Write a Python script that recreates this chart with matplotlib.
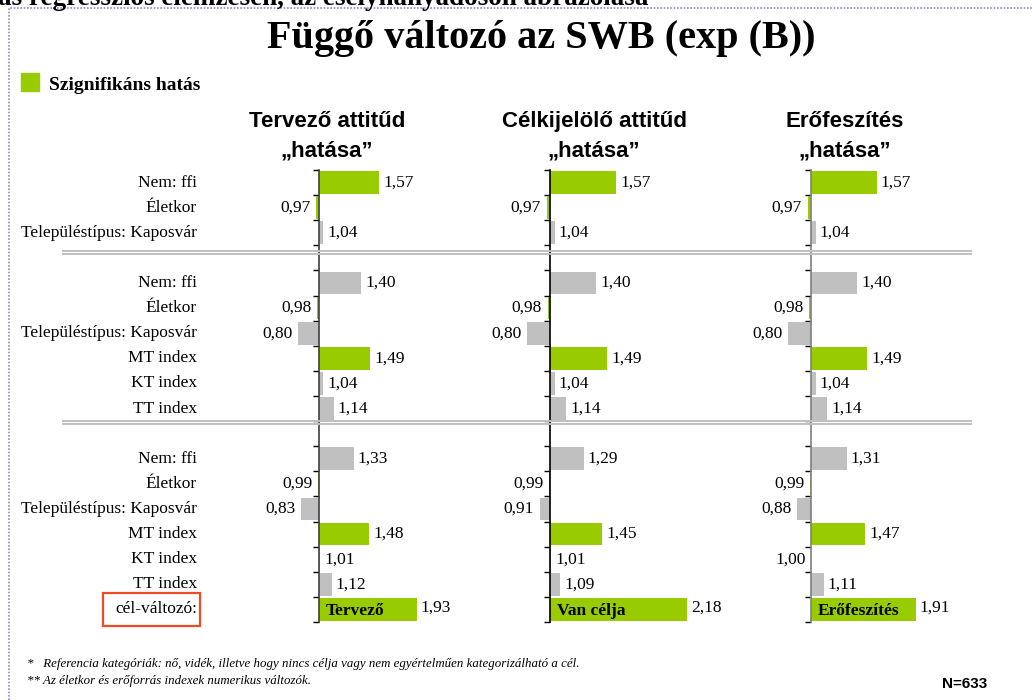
import matplotlib
matplotlib.use("Agg")
import matplotlib.pyplot as plt
from matplotlib.lines import Line2D
from matplotlib.patches import Rectangle
from matplotlib.transforms import blended_transform_factory

W, H = 1032, 700
GREEN = "#99cc00"
GRAY = "#c0c0c0"
SERIF = "Liberation Serif"
SANS = "Liberation Sans"

# row labels of the three nested models
group_labels = [
    ["Nem: ffi", "Életkor", "Településtípus: Kaposvár"],
    ["Nem: ffi", "Életkor", "Településtípus: Kaposvár", "MT index", "KT index", "TT index"],
    ["Nem: ffi", "Életkor", "Településtípus: Kaposvár", "MT index", "KT index", "TT index",
     "cél-változó:"],
]
panel_titles = ["Tervező attitűd", "Célkijelölő attitűd", "Erőfeszítés"]
target_names = ["Tervező", "Van célja", "Erőfeszítés"]

# exp(B) values, same row order as group_labels flattened
tervezo = [1.57, 0.97, 1.04,
           1.40, 0.98, 0.80, 1.49, 1.04, 1.14,
           1.33, 0.99, 0.83, 1.48, 1.01, 1.12, 1.93]
celkijelolo = [1.57, 0.97, 1.04,
               1.40, 0.98, 0.80, 1.49, 1.04, 1.14,
               1.29, 0.99, 0.91, 1.45, 1.01, 1.09, 2.18]
erofeszites = [1.57, 0.97, 1.04,
               1.40, 0.98, 0.80, 1.49, 1.04, 1.14,
               1.31, 0.99, 0.88, 1.47, 1.00, 1.11, 1.91]
significant = [1, 1, 0,
               0, 1, 0, 1, 0, 0,
               0, 1, 0, 1, 0, 0, 1]

panel_values = [tervezo, celkijelolo, erofeszites]


def fx(x):
    return x / W


def fy(y):
    return 1 - y / H


# row positions: one empty row between the groups
pos, starts = [], []
k = 0
for g in group_labels:
    starts.append((k, len(g)))
    for _ in g:
        pos.append(k)
        k += 1
    k += 1
labels = [l for g in group_labels for l in g]
boundaries = [s - 0.5 + j for s, n in starts for j in range(n + 1)]

fig = plt.figure(figsize=(W / 100, H / 100), dpi=100)

# panel placement in pixels (axis line position, px per unit)
axis_px = [319, 550, 811]
scales = [105, 116, 115]
axis_colors = ["#404040", "#000000", "#808080"]
x0, x1 = 0.6, 2.45
top_px, bot_px = 170, 622

for i, vals in enumerate(panel_values):
    left = axis_px[i] - (1 - x0) * scales[i]
    width = (x1 - x0) * scales[i]
    ax = fig.add_axes([fx(left), fy(bot_px), width / W, (bot_px - top_px) / H])
    ax.set_xlim(x0, x1)
    ax.set_ylim(pos[-1] + 0.5, -0.5)
    colors = [GREEN if s else GRAY for s in significant]
    ax.barh(pos, [v - 1 for v in vals], left=1, height=0.9, color=colors, zorder=2)
    for spine in ["top", "right", "bottom"]:
        ax.spines[spine].set_visible(False)
    ax.spines["left"].set_position(("data", 1))
    ax.spines["left"].set_color(axis_colors[i])
    ax.spines["left"].set_linewidth(1.2)
    ax.spines["left"].set_zorder(3)
    ax.set_xticks([])
    ax.set_yticks(boundaries)
    ax.set_yticklabels([])
    ax.tick_params(axis="y", direction="out", length=4, width=1, color="black")
    ax.patch.set_visible(False)

    for j, (p, v) in enumerate(zip(pos, vals)):
        dy = 1.5 if j == len(vals) - 1 else 0
        txt = f"{v:.2f}".replace(".", ",")
        if v > 1:
            ax.annotate(txt, (v, p), xytext=(3, dy), textcoords="offset points",
                        ha="left", va="center", family=SERIF, fontsize=12.5)
        else:
            ax.annotate(txt, (v, p), xytext=(-4, dy), textcoords="offset points",
                        ha="right", va="center", family=SERIF, fontsize=12.5)
    ax.annotate(target_names[i], (1, pos[-1]), xytext=(5, -1), textcoords="offset points",
                ha="left", va="center", family=SERIF, fontsize=12.5, fontweight="bold")

    cx = axis_px[i] + [8, 44, 34][i]
    fig.text(fx(cx), fy(127), panel_titles[i], ha="center", va="baseline",
             family=SANS, fontsize=16, fontweight="bold")
    fig.text(fx(cx), fy(157), "„hatása”", ha="center", va="baseline",
             family=SANS, fontsize=16, fontweight="bold")

    if i == 0:
        tr = blended_transform_factory(fig.transFigure, ax.transData)
        for p, l in zip(pos, labels):
            ax.text(fx(197), p, l, transform=tr, ha="right", va="center",
                    family=SERIF, fontsize=12.5)

# double separator lines between the models
for ya, yb in [(250.7, 254), (420.7, 424)]:
    for y in (ya, yb):
        fig.add_artist(Line2D([fx(63), fx(971)], [fy(y), fy(y)], color="#c0c0c0", lw=1.4))

# red frame around the target-variable label
fig.add_artist(Rectangle((fx(103), fy(626)), (200 - 103) / W, (626 - 593) / H,
                         transform=fig.transFigure, fill=False, ec="#f04a24", lw=1.6))

# dotted slide frame
fig.add_artist(Line2D([fx(9), fx(9), fx(W)], [0, fy(7.7), fy(7.7)], color="#8c8cc8",
                      lw=1.2, linestyle=(0, (1, 1))))

# clipped heading from the slide above
fig.text(fx(-2), fy(5), "ás regressziós elemzésen, az esélyhányadoson ábrázolása",
         ha="left", va="baseline", family=SERIF, fontsize=19.5, fontweight="bold")

fig.text(fx(541), fy(48), "Függő változó az SWB (exp (B))", ha="center", va="baseline",
         family=SERIF, fontsize=29, fontweight="bold")

# legend
fig.add_artist(Rectangle((fx(21), fy(91)), 18 / W, 18 / H, transform=fig.transFigure,
                         color=GREEN))
fig.text(fx(49), fy(90), "Szignifikáns hatás", ha="left", va="baseline",
         family=SERIF, fontsize=14, fontweight="bold")

# footnotes
fig.text(fx(27), fy(667), "*   Referencia kategóriák: nő, vidék, illetve hogy nincs célja vagy "
         "nem egyértelműen kategorizálható a cél.", ha="left", va="baseline",
         family=SERIF, fontsize=9.3, style="italic")
fig.text(fx(27), fy(684), "** Az életkor és erőforrás indexek numerikus változók.",
         ha="left", va="baseline", family=SERIF, fontsize=9.3, style="italic")
fig.text(fx(987), fy(688), "N=633", ha="right", va="baseline",
         family=SANS, fontsize=11, fontweight="bold")

fig.savefig("out.png", dpi=100)
